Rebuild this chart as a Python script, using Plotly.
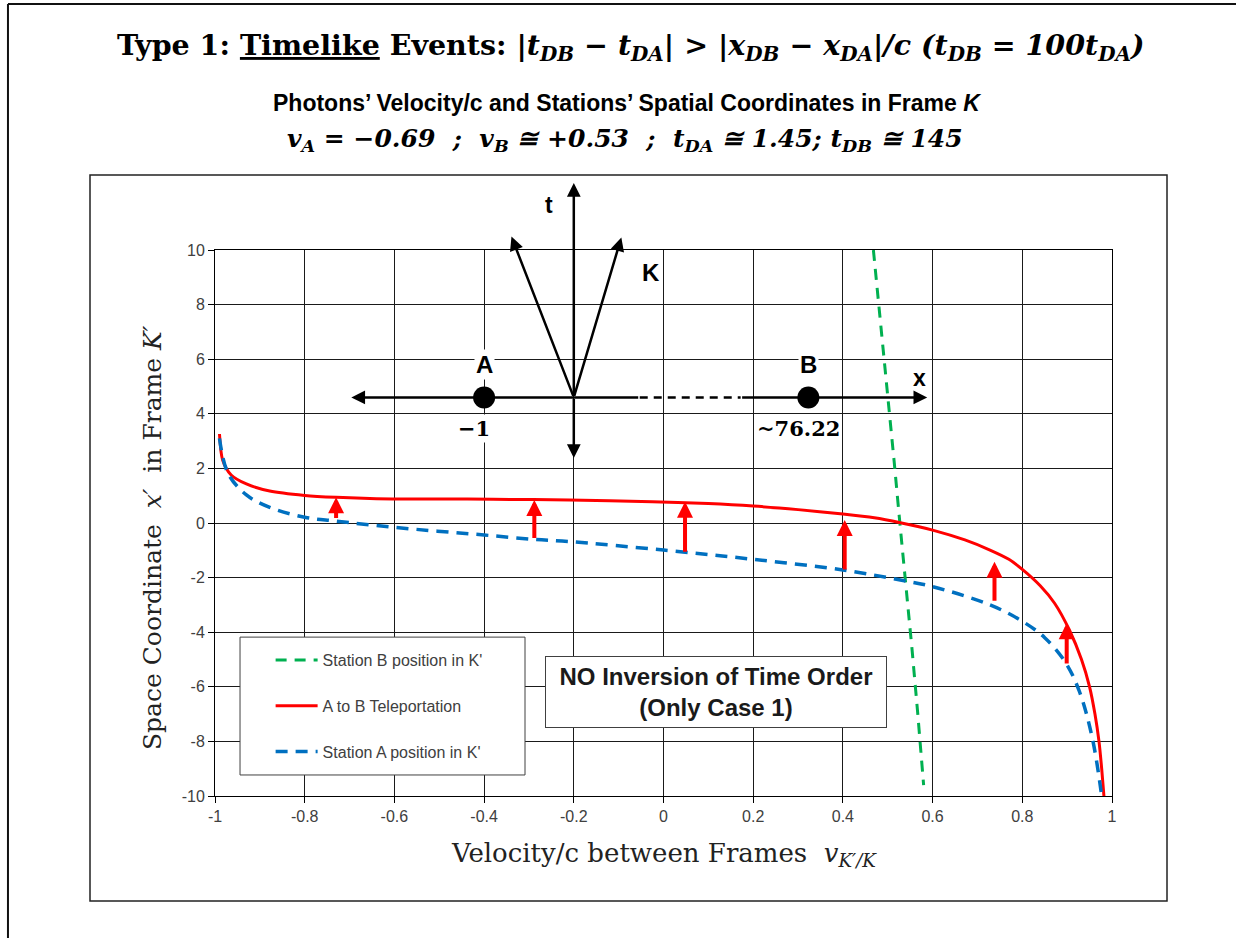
import plotly.graph_objects as go

# ---------------- data ----------------
red_v = [-0.99, -0.983, -0.964, -0.93, -0.878, -0.80, -0.73, -0.64, -0.50, -0.38, -0.21,
         -0.025, 0.10, 0.20, 0.30, 0.40, 0.47, 0.528, 0.60, 0.672, 0.728, 0.77, 0.80, 0.84,
         0.872, 0.905, 0.932, 0.950, 0.962, 0.971, 0.977, 0.982]
red_x = [3.26, 2.31, 1.76, 1.43, 1.17, 1.01, 0.94, 0.89, 0.88, 0.87, 0.84,
         0.78, 0.71, 0.62, 0.49, 0.33, 0.19, 0.01, -0.26, -0.62, -0.99, -1.33, -1.70, -2.30,
         -2.94, -3.92, -5.0, -6.0, -7.0, -8.0, -9.0, -10.0]

blue_v = [-0.99, -0.971, -0.93, -0.878, -0.80, -0.73, -0.60, -0.40, -0.288, -0.21,
          0.0, 0.2, 0.40, 0.528, 0.60, 0.728, 0.80, 0.85, 0.896, 0.928, 0.957, 0.977]
blue_x = [3.1, 1.82, 1.03, 0.57, 0.21, 0.07, -0.16, -0.44, -0.6, -0.68,
          -0.99, -1.33, -1.72, -2.09, -2.33, -3.0, -3.6, -4.2, -5.1, -6.2, -7.95, -10.0]

green_v = [0.468, 0.485, 0.500, 0.514, 0.527, 0.540, 0.554, 0.567, 0.580]
green_x = [10.0, 7.2, 4.6, 2.3, 0.0, -2.1, -4.6, -7.0, -9.6]

arrow_v = [-0.73, -0.288, 0.048, 0.404, 0.738, 0.899]
arrow_tail = [0.13, -0.6, -1.11, -1.76, -2.9, -5.2]
arrow_head = [0.94, 0.84, 0.78, 0.11, -1.42, -3.67]

station_names = ["A", "B"]
station_pos = [-0.40, 0.323]
station_label = ["\u22121", "~76.22"]
inset_axis_y = 4.6

x_ticks = [-1, -0.8, -0.6, -0.4, -0.2, 0, 0.2, 0.4, 0.6, 0.8, 1]
x_ticktext = ["-1", "-0.8", "-0.6", "-0.4", "-0.2", "0", "0.2", "0.4", "0.6", "0.8", "1"]
y_ticks = [-10, -8, -6, -4, -2, 0, 2, 4, 6, 8, 10]
y_ticktext = ["-10", "-8", "-6", "-4", "-2", "0", "2", "4", "6", "8", "10"]

GREEN = "#00B050"
RED = "#FF0000"
BLUE = "#0070C0"
SANS = "Liberation Sans"
SERIF = "DejaVu Serif"
NB = "\u00a0"

fig = go.Figure()
fig.add_trace(go.Scatter(x=green_v, y=green_x, mode="lines", name="Station B position in K'",
                         legendgroup="g", line=dict(color=GREEN, width=3, dash="11px,8px")))
fig.add_trace(go.Scatter(x=red_v, y=red_x, mode="lines", name="A to B Teleportation",
                         legendgroup="r", line=dict(color=RED, width=3, shape="spline", smoothing=0.8)))
fig.add_trace(go.Scatter(x=blue_v, y=blue_x, mode="lines", name="Station A position in K'",
                         legendgroup="b", line=dict(color=BLUE, width=3.5, dash="12px,8px", shape="spline")))
fig.add_trace(go.Scatter(x=station_pos, y=[inset_axis_y] * 2, mode="markers", showlegend=False,
                         marker=dict(color="black", size=22)))

ann = []
# red arrows
for v, t0, t1 in zip(arrow_v, arrow_tail, arrow_head):
    ann.append(dict(x=v, y=t1, ax=v, ay=t0, xref="x", yref="y", axref="x", ayref="y",
                    text="", showarrow=True, arrowhead=2, arrowsize=0.8, arrowwidth=4,
                    arrowcolor=RED, standoff=0, startstandoff=0))

# inset spacetime diagram
ox = -0.2
def black_arrow(x0, y0, x1, y1):
    ann.append(dict(x=x1, y=y1, ax=x0, ay=y0, xref="x", yref="y", axref="x", ayref="y",
                    text="", showarrow=True, arrowhead=2, arrowsize=1.1, arrowwidth=2.5,
                    arrowcolor="black", standoff=0, startstandoff=0))

black_arrow(ox, inset_axis_y, ox, 12.45)
black_arrow(ox, inset_axis_y, ox, 2.38)
black_arrow(ox, inset_axis_y, -0.339, 10.49)
black_arrow(ox, inset_axis_y, -0.094, 10.46)
black_arrow(-0.053, inset_axis_y, -0.696, inset_axis_y)
black_arrow(0.172, inset_axis_y, 0.588, inset_axis_y)

shapes = [dict(type="line", xref="x", yref="y", x0=-0.053, x1=0.172, y0=inset_axis_y, y1=inset_axis_y,
               line=dict(color="black", width=2.5, dash="8px,6px"))]

for name, pos, lab in zip(station_names, station_pos, station_label):
    ann.append(dict(x=pos, y=5.79, xref="x", yref="y", text="<b>%s</b>" % name, showarrow=False,
                    font=dict(family=SANS, size=24, color="black"), bgcolor="white"))
    ann.append(dict(x=pos - 0.022, y=3.45, xref="x", yref="y", text="<b>%s</b>" % lab, showarrow=False,
                    font=dict(family=SERIF, size=21, color="black"), bgcolor="white"))

ann.append(dict(x=-0.027, y=9.16, xref="x", yref="y", text="<b>K</b>", showarrow=False,
                font=dict(family=SANS, size=24, color="black")))
ann.append(dict(x=0.571, y=5.31, xref="x", yref="y", text="<b>x</b>", showarrow=False,
                font=dict(family=SANS, size=23, color="black")))
ann.append(dict(x=-0.256, y=1.0824, xref="x", yref="paper", yanchor="middle", text="<b>t</b>",
                showarrow=False, font=dict(family=SANS, size=23, color="black")))

# box label
ann.append(dict(x=0.5585, y=0.1896, xref="paper", yref="paper", xanchor="center", yanchor="middle",
                text="<b>NO Inversion of Time Order<br>(Only Case 1)</b>", showarrow=False,
                font=dict(family=SANS, size=24, color="#1a1a1a"), bgcolor="white",
                bordercolor="#404040", borderwidth=1, borderpad=2, width=336, height=66))

# titles
ann.append(dict(x=0.4627, y=1.3718, xref="paper", yref="paper", xanchor="center", yanchor="middle",
                showarrow=False,
                text="<b>Type 1: <u>Timelike</u> Events: <i>|t<sub>DB</sub> \u2212 t<sub>DA</sub>| &gt; "
                     "|x<sub>DB</sub> \u2212 x<sub>DA</sub>|/c" + NB + "(t<sub>DB</sub> = 100t<sub>DA</sub>)</i></b>",
                font=dict(family=SERIF, size=28.5, color="black")))
ann.append(dict(x=0.4593, y=1.2692, xref="paper", yref="paper", xanchor="center", yanchor="middle",
                showarrow=False,
                text="<b>Photons\u2019 Velocity/c and Stations\u2019 Spatial Coordinates in Frame </b><b><i>K</i></b>",
                font=dict(family=SANS, size=23, color="black")))
ann.append(dict(x=0.457, y=1.2015, xref="paper", yref="paper", xanchor="center", yanchor="middle",
                showarrow=False,
                text="<b><i>v<sub>A</sub> = \u22120.69" + NB * 2 + ";" + NB * 2 + "v<sub>B</sub> \u2245 +0.53"
                     + NB * 2 + ";" + NB * 2 + "t<sub>DA</sub> \u2245 1.45; t<sub>DB</sub> \u2245 145</i></b>",
                font=dict(family=SERIF, size=25, color="black")))

# axis titles
ann.append(dict(x=-0.0702, y=0.4725, xref="paper", yref="paper", xanchor="center", yanchor="middle",
                showarrow=False, textangle=-90,
                text="Space Coordinate " + NB + "<i>x\u2032</i>" + NB + " in Frame <i>K\u2032</i>",
                font=dict(family=SERIF, size=25, color="#222222")))
ann.append(dict(x=0.5, y=-0.108, xref="paper", yref="paper", xanchor="center", yanchor="middle",
                showarrow=False,
                text="Velocity/c between Frames " + NB + "<i>v<sub>K\u2032/K</sub></i>",
                font=dict(family=SERIF, size=26, color="#222222")))

# frames and legend box
shapes += [
    dict(type="line", xref="paper", yref="paper", x0=-0.2308, x1=1.2, y0=1.4505, y1=1.4505,
         line=dict(color="#111111", width=2)),
    dict(type="line", xref="paper", yref="paper", x0=-0.2308, x1=-0.2308, y0=-0.3, y1=1.4505,
         line=dict(color="#111111", width=2)),
    dict(type="rect", xref="paper", yref="paper", x0=-0.13935, x1=1.06132, y0=-0.19231, y1=1.13736,
         line=dict(color="#222222", width=1.5), layer="below"),
    dict(type="rect", xref="paper", yref="paper", x0=0.0279, x1=0.3456, y0=0.0385, y1=0.291,
         line=dict(color="#404040", width=1), fillcolor="white", layer="above"),
]

fig.update_layout(
    width=1236, height=938, autosize=False,
    margin=dict(l=215, r=124, t=250, b=142),
    paper_bgcolor="white", plot_bgcolor="white",
    annotations=ann, shapes=shapes,
    showlegend=True,
    legend=dict(x=0.062, y=0.2802, xanchor="left", yanchor="top", bgcolor="rgba(0,0,0,0)",
                font=dict(family=SANS, size=16, color="#404040"), traceorder="grouped",
                tracegroupgap=22, itemwidth=42),
    xaxis=dict(range=[-1, 1], tickvals=x_ticks, ticktext=x_ticktext, showgrid=True,
               gridcolor="#1a1a1a", gridwidth=1, zeroline=False, showline=True, mirror=True,
               linecolor="black", linewidth=1, ticks="outside", ticklen=6, tickcolor="black",
               tickfont=dict(family=SANS, size=16, color="#404040")),
    yaxis=dict(range=[-10, 10], tickvals=y_ticks, ticktext=y_ticktext, showgrid=True,
               gridcolor="#1a1a1a", gridwidth=1, zeroline=False, showline=True, mirror=True,
               linecolor="black", linewidth=1, ticks="outside", ticklen=6, tickcolor="black",
               tickfont=dict(family=SANS, size=16, color="#404040")),
)

fig.write_html("out.html", config={"displayModeBar": False},
               post_script="document.body.style.margin='0px';")
